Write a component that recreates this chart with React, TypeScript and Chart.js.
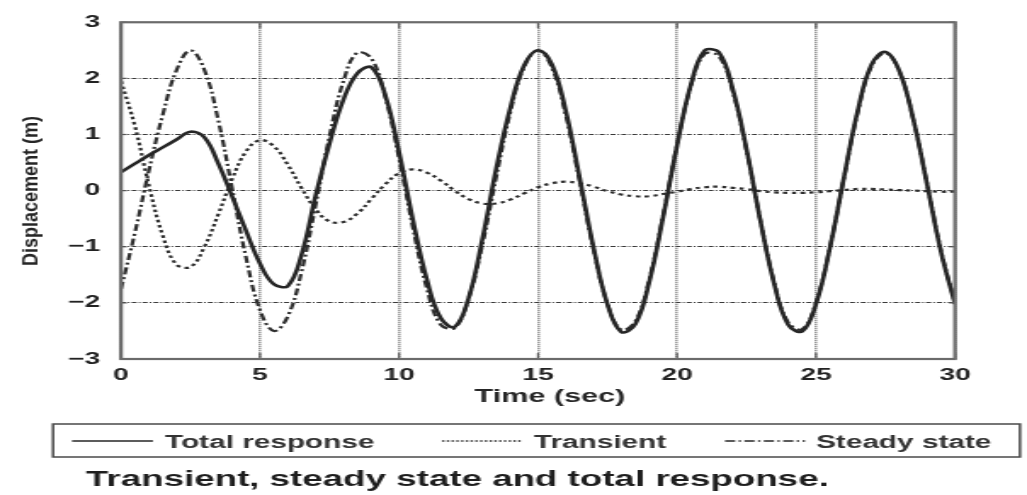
import React, { useEffect, useRef } from "react";
import { Chart, registerables } from "chart.js";

Chart.register(...registerables);

// ---------- data ----------
const timeSec = [
  0, 0.5, 1, 1.5, 2, 2.5, 3, 3.5, 4, 4.5, 5, 5.5, 6, 6.5, 7, 7.5, 8, 8.5, 9, 9.5,
  10, 10.5, 11, 11.5, 12, 12.5, 13, 13.5, 14, 14.5, 15, 15.5, 16, 16.5, 17, 17.5,
  18, 18.5, 19, 19.5, 20, 20.5, 21, 21.5, 22, 22.5, 23, 23.5, 24, 24.5, 25, 25.5,
  26, 26.5, 27, 27.5, 28, 28.5, 29, 29.5, 30,
];

const totalResponse = [
  0.33, 0.48, 0.63, 0.77, 0.91, 1.05, 0.95, 0.48, -0.11, -0.72, -1.3, -1.67, -1.7,
  -1.13, -0.09, 0.84, 1.62, 2.09, 2.2, 1.71, 0.69, -0.52, -1.58, -2.27, -2.43,
  -1.92, -0.86, 0.4, 1.47, 2.23, 2.5, 2.25, 1.42, 0.22, -1.02, -2.03, -2.52, -2.38,
  -1.63, -0.47, 0.8, 1.89, 2.5, 2.47, 1.82, 0.74, -0.54, -1.67, -2.39, -2.51,
  -2.02, -1.02, 0.22, 1.42, 2.25, 2.47, 2.13, 1.27, 0.1, -1.1, -2.02,
];

const transient = [
  1.95, 1.15, 0.1, -0.8, -1.32, -1.36, -1.0, -0.42, 0.21, 0.7, 0.9, 0.79, 0.46,
  0.04, -0.33, -0.55, -0.56, -0.41, -0.15, 0.11, 0.31, 0.38, 0.32, 0.18, 0.0,
  -0.15, -0.23, -0.23, -0.16, -0.05, 0.06, 0.13, 0.16, 0.13, 0.07, -0.01, -0.07,
  -0.1, -0.1, -0.06, -0.02, 0.03, 0.06, 0.07, 0.05, 0.03, -0.01, -0.03, -0.04,
  -0.04, -0.03, -0.01, 0.01, 0.03, 0.03, 0.02, 0.01, 0.0, -0.01, -0.02, -0.02,
];

const steadyState = [
  -1.75, -0.75, 0.35, 1.35, 2.15, 2.5, 2.15, 1.25, 0.03, -1.2, -2.13, -2.5, -2.24,
  -1.43, -0.26, 0.97, 1.95, 2.46, 2.36, 1.68, 0.58, -0.66, -1.74, -2.39, -2.45,
  -1.93, -0.96, 0.25, 1.39, 2.2, 2.5, 2.19, 1.34, 0.16, -1.06, -2.02, -2.48,
  -2.33, -1.58, -0.44, 0.81, 1.86, 2.44, 2.4, 1.77, 0.71, -0.53, -1.64, -2.35,
  -2.47, -1.99, -1.01, 0.21, 1.39, 2.22, 2.45, 2.12, 1.27, 0.11, -1.08, -2.0,
];

const xTickValues = [0, 5, 10, 15, 20, 25, 30];
const yTickValues = [-3, -2, -1, 0, 1, 2, 3];
const seriesLabels = ["Total response", "Transient", "Steady state"];
const xAxisTitle = "Time (sec)";
const yAxisTitle = "Displacement (m)";
const captionText = "Transient, steady state and total response.";

// ---------- layout ----------
const PAGE_W = 1027;
const PAGE_H = 495;
const STRETCH = 1.7; // the reference is stretched horizontally
const CW = Math.round(PAGE_W / STRETCH);
const sx = (px: number) => (px * CW) / PAGE_W;
const FONT = "'Liberation Sans', Arial, sans-serif";
const INK = "#262626";

const DASH_TRANSIENT = [2.6, 2.6];
const DASH_STEADY = [7, 2.8, 2, 2.8];

const decorPlugin = {
  id: "decor",
  afterDraw(chart: any) {
    const { ctx, chartArea: a } = chart;
    const xs = chart.scales.x;
    const ys = chart.scales.y;
    const line = (x1: number, y1: number, x2: number, y2: number) => {
      ctx.beginPath();
      ctx.moveTo(x1, y1);
      ctx.lineTo(x2, y2);
      ctx.stroke();
    };
    ctx.save();
    // inward tick marks
    ctx.setLineDash([]);
    ctx.strokeStyle = "#555";
    ctx.lineWidth = 1.2;
    xTickValues.forEach((v) => {
      const x = xs.getPixelForValue(v);
      line(x, a.bottom, x, a.bottom - 6);
      line(x, a.top, x, a.top + 6);
    });
    yTickValues.forEach((v) => {
      const y = ys.getPixelForValue(v);
      line(a.left, y, a.left + 3.5, y);
      line(a.right, y, a.right - 3.5, y);
    });
    // plot frame
    ctx.strokeStyle = "#6b6b6b";
    ctx.lineWidth = 2.2;
    ctx.strokeRect(a.left, a.top, a.right - a.left, a.bottom - a.top);

    // x axis title
    ctx.fillStyle = INK;
    ctx.font = `bold 18px ${FONT}`;
    ctx.textAlign = "center";
    ctx.textBaseline = "alphabetic";
    ctx.fillText(xAxisTitle, sx(550), 401.5);

    // y axis title
    ctx.save();
    ctx.translate(sx(31.5), 191);
    ctx.rotate(-Math.PI / 2);
    ctx.font = `bold 13px ${FONT}`;
    const w = ctx.measureText(yAxisTitle).width;
    ctx.scale(150 / w, 1);
    ctx.textAlign = "center";
    ctx.textBaseline = "middle";
    ctx.fillText(yAxisTitle, 0, 0);
    ctx.restore();

    // legend box
    ctx.strokeStyle = "#4a4a4a";
    ctx.lineWidth = 1.5;
    ctx.strokeRect(sx(53), 424, sx(1020) - sx(53), 33);
    const items = [
      { x1: 72, x2: 153, tx: 165, dash: [] as number[], lw: 1.6 },
      { x1: 442, x2: 522, tx: 534, dash: [1.4, 1.4], lw: 1.4 },
      { x1: 725, x2: 805, tx: 816, dash: [6, 2, 1.4, 2], lw: 1.5 },
    ];
    ctx.font = `bold 17.5px ${FONT}`;
    ctx.textAlign = "left";
    ctx.textBaseline = "alphabetic";
    items.forEach((it, i) => {
      ctx.strokeStyle = INK;
      ctx.lineWidth = it.lw;
      ctx.setLineDash(it.dash);
      line(sx(it.x1), 441, sx(it.x2), 441);
      ctx.setLineDash([]);
      ctx.fillStyle = "#333";
      ctx.fillText(seriesLabels[i], sx(it.tx), 447.5);
    });

    // caption
    ctx.fillStyle = "#1e1e1e";
    ctx.font = `bold 21.6px ${FONT}`;
    ctx.fillText(captionText, sx(86), 485.7);
    ctx.restore();
  },
};

export default function App() {
  const ref = useRef<HTMLCanvasElement | null>(null);

  useEffect(() => {
    if (!ref.current) return;
    const pts = (vals: number[]) => timeSec.map((t, i) => ({ x: t, y: vals[i] }));
    const chart = new Chart(ref.current, {
      type: "line",
      data: {
        datasets: [
          {
            label: seriesLabels[0],
            data: pts(totalResponse),
            borderColor: INK,
            borderWidth: 2.6,
            pointRadius: 0,
            tension: 0.4,
            fill: false,
          },
          {
            label: seriesLabels[1],
            data: pts(transient),
            borderColor: "#2e2e2e",
            borderWidth: 2.2,
            borderDash: DASH_TRANSIENT,
            pointRadius: 0,
            tension: 0.4,
            fill: false,
          },
          {
            label: seriesLabels[2],
            data: pts(steadyState),
            borderColor: "#2e2e2e",
            borderWidth: 2.2,
            borderDash: DASH_STEADY,
            pointRadius: 0,
            tension: 0.4,
            fill: false,
          },
        ],
      },
      options: {
        animation: false,
        responsive: false,
        devicePixelRatio: 1,
        events: [],
        layout: {
          padding: { left: 0, top: 13, right: CW - sx(955), bottom: PAGE_H - 359 - 40 },
        },
        plugins: {
          legend: { display: false },
          tooltip: { enabled: false },
          title: { display: false },
        },
        scales: {
          x: {
            type: "linear",
            min: 0,
            max: 30,
            afterBuildTicks: (s: any) => {
              s.ticks = xTickValues.map((v) => ({ value: v }));
            },
            afterFit: (s: any) => {
              s.height = 40;
            },
            ticks: {
              autoSkip: false,
              maxRotation: 0,
              padding: 7,
              color: "#222",
              font: { family: FONT, size: 16.5, weight: "bold" },
              callback: (v: any) => String(v),
            },
            grid: { color: "#777", lineWidth: 1.6, drawTicks: false },
            border: { display: false, dash: [1, 1] },
          },
          y: {
            type: "linear",
            min: -3,
            max: 3,
            afterBuildTicks: (s: any) => {
              s.ticks = yTickValues.map((v) => ({ value: v }));
            },
            afterFit: (s: any) => {
              s.width = sx(121);
            },
            ticks: {
              padding: sx(121) - sx(100),
              color: "#222",
              font: { family: FONT, size: 16.5, weight: "bold" },
              callback: (v: any) => (v < 0 ? "\u2212" + Math.abs(v) : String(v)),
            },
            grid: { color: "#3a3a3a", lineWidth: 1, drawTicks: false },
            border: { display: false, dash: [3, 1.2, 1, 1.2] },
          },
        },
      },
      plugins: [decorPlugin],
    } as any);
    return () => chart.destroy();
  }, []);

  return (
    <div
      style={{
        position: "fixed",
        left: 0,
        top: 0,
        width: PAGE_W,
        height: PAGE_H,
        background: "#fff",
      }}
    >
      <canvas
        ref={ref}
        width={CW}
        height={PAGE_H}
        style={{ width: PAGE_W + "px", height: PAGE_H + "px", display: "block" }}
      />
    </div>
  );
}
